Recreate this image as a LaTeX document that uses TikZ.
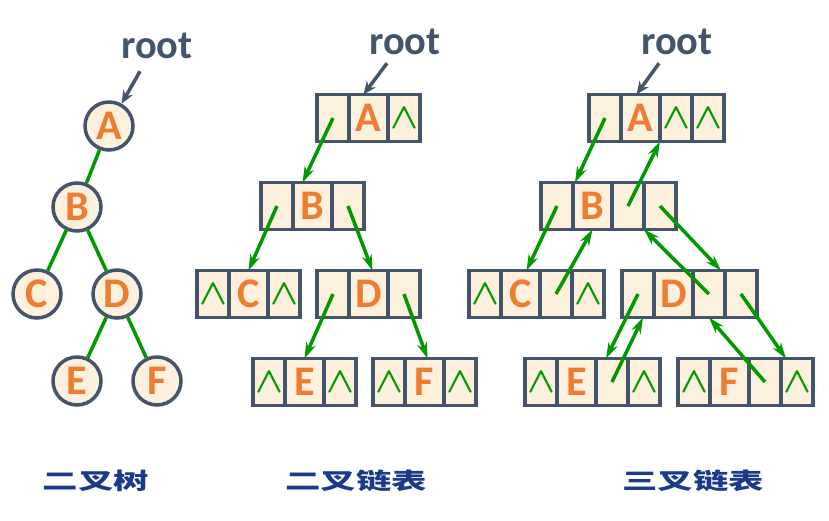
\documentclass[tikz,border=0pt]{standalone}
\usepackage{fontspec}
\setmainfont{Carlito}
\newfontfamily\cjk{Noto Sans CJK SC}
\usetikzlibrary{positioning,arrows.meta}

\definecolor{slate}{HTML}{44546A}
\definecolor{cream}{HTML}{FDF0DC}
\definecolor{letter}{HTML}{ED7D31}
\definecolor{link}{HTML}{009900}
\definecolor{navy}{HTML}{1A3A8C}

\newcommand\nul{$\wedge$}
\newcommand\stretched[1]{\scalebox{1.55}[1]{#1}}

\tikzset{
  vert/.style={circle, draw=slate, fill=cream, line width=2pt, minimum size=0.96cm,
    inner sep=0pt, text=letter, font=\fontsize{24}{24}\selectfont\bfseries},
  treeline/.style={draw=link, line width=2pt},
  rec/.style={draw=slate, fill=cream, line width=2pt, minimum height=0.94cm,
    inner sep=0pt, outer sep=0pt},
  ptr/.style={rec, minimum width=0.64cm},
  dat/.style={rec, minimum width=0.78cm, text=letter, font=\fontsize{24}{24}\selectfont\bfseries},
  nil/.style={ptr, text=link, font=\fontsize{20}{20}\selectfont\boldmath},
  link/.style={draw=link, line width=2pt, -{Stealth[length=0.32cm,width=0.2cm]}},
  rootlab/.style={inner sep=0pt, text=slate, font=\fontsize{23}{23}\selectfont\bfseries},
  rootarrow/.style={draw=slate, line width=2pt, -{Stealth[length=0.26cm,width=0.22cm]}},
  caption/.style={inner sep=0pt, text=navy, font=\cjk\fontsize{13}{13}\selectfont\bfseries}
}

\begin{document}
\begin{tikzpicture}[x=0.02cm, y=-0.02cm]
  \useasboundingbox (0,0) rectangle (829,521);

  % binary tree
  \node[vert] (btA) at (109,126) {A};
  \node[vert] (btB) at (77,207) {B};
  \node[vert] (btC) at (37,294) {C};
  \node[vert] (btD) at (117,294) {D};
  \node[vert] (btE) at (77,381) {E};
  \node[vert] (btF) at (157,381) {F};
  \draw[treeline] (btA) -- (btB);
  \draw[treeline] (btB) -- (btC);
  \draw[treeline] (btB) -- (btD);
  \draw[treeline] (btD) -- (btE);
  \draw[treeline] (btD) -- (btF);
  \node[rootlab] (btroot) at (157,46) {root};
  \draw[rootarrow] ([xshift=-0.34cm,yshift=-0.24cm]btroot.south) -- (btA);

  % binary linked list
  \node[ptr] (blA1) at (333,118) {};
  \node[dat, right=0pt of blA1] (blA2) {A};
  \node[nil, right=0pt of blA2] (blA3) {\nul};
  \node[ptr] (blB1) at (277,206) {};
  \node[dat, right=0pt of blB1] (blB2) {B};
  \node[ptr, right=0pt of blB2] (blB3) {};
  \node[nil] (blC1) at (213,294) {\nul};
  \node[dat, right=0pt of blC1] (blC2) {C};
  \node[nil, right=0pt of blC2] (blC3) {\nul};
  \node[ptr] (blD1) at (333,294) {};
  \node[dat, right=0pt of blD1] (blD2) {D};
  \node[ptr, right=0pt of blD2] (blD3) {};
  \node[nil] (blE1) at (269,382) {\nul};
  \node[dat, right=0pt of blE1] (blE2) {E};
  \node[nil, right=0pt of blE2] (blE3) {\nul};
  \node[nil] (blF1) at (389,382) {\nul};
  \node[dat, right=0pt of blF1] (blF2) {F};
  \node[nil, right=0pt of blF2] (blF3) {\nul};
  \draw[link] (blA1.center) -- ([xshift=-0.2cm]blB2.north);
  \draw[link] (blB1.center) -- (blC2.north);
  \draw[link] (blB3.center) -- ([xshift=0.08cm]blD2.north);
  \draw[link] (blD1.center) -- (blE2.north);
  \draw[link] (blD3.center) -- ([xshift=0.06cm]blF2.north);
  \node[rootlab] (blroot) at (405,42) {root};
  \draw[rootarrow] ([xshift=-0.36cm,yshift=-0.16cm]blroot.south) -- ([xshift=-0.1cm]blA2.north);

  % triple linked list
  \node[ptr] (tlA1) at (605,118) {};
  \node[dat, right=0pt of tlA1] (tlA2) {A};
  \node[nil, right=0pt of tlA2] (tlA3) {\nul};
  \node[nil, right=0pt of tlA3] (tlA4) {\nul};
  \node[ptr] (tlB1) at (557,206) {};
  \node[dat, right=0pt of tlB1] (tlB2) {B};
  \node[ptr, right=0pt of tlB2] (tlB3) {};
  \node[ptr, right=0pt of tlB3] (tlB4) {};
  \node[nil] (tlC1) at (485,294) {\nul};
  \node[dat, right=0pt of tlC1] (tlC2) {C};
  \node[ptr, right=0pt of tlC2] (tlC3) {};
  \node[nil, right=0pt of tlC3] (tlC4) {\nul};
  \node[ptr] (tlD1) at (638,294) {};
  \node[dat, right=0pt of tlD1] (tlD2) {D};
  \node[ptr, right=0pt of tlD2] (tlD3) {};
  \node[ptr, right=0pt of tlD3] (tlD4) {};
  \node[nil] (tlE1) at (541,382) {\nul};
  \node[dat, right=0pt of tlE1] (tlE2) {E};
  \node[ptr, right=0pt of tlE2] (tlE3) {};
  \node[nil, right=0pt of tlE3] (tlE4) {\nul};
  \node[nil] (tlF1) at (694,382) {\nul};
  \node[dat, right=0pt of tlF1] (tlF2) {F};
  \node[ptr, right=0pt of tlF2] (tlF3) {};
  \node[nil, right=0pt of tlF3] (tlF4) {\nul};
  \draw[link] (tlA1.center) -- ([xshift=0.04cm]tlB2.north west);
  \draw[link] (tlB3.center) -- (tlA3.south west);
  \draw[link] (tlB1.center) -- ([xshift=0.12cm]tlC2.north);
  \draw[link] (tlC3.center) -- (tlB2.south);
  \draw[link] (tlB4.center) -- ([xshift=-0.08cm]tlD3.north east);
  \draw[link] (tlD3.center) -- (tlB3.south east);
  \draw[link] (tlD1.center) -- ([xshift=-0.12cm]tlE3.north);
  \draw[link] (tlE3.center) -- ([xshift=0.1cm]tlD1.south);
  \draw[link] (tlD4.center) -- ([xshift=-0.22cm]tlF4.north);
  \draw[link] (tlF3.center) -- (tlD3.south);
  \node[rootlab] (tlroot) at (677,42) {root};
  \draw[rootarrow] ([xshift=-0.36cm,yshift=-0.16cm]tlroot.south) -- ([xshift=-0.08cm]tlA2.north);

  % captions
  \node[caption] (btcap) at (96,481) {\stretched{二叉树}};
  \node[caption] (blcap) at (356,481) {\stretched{二叉链表}};
  \node[caption] (tlcap) at (693,481) {\stretched{三叉链表}};
\end{tikzpicture}
\end{document}
